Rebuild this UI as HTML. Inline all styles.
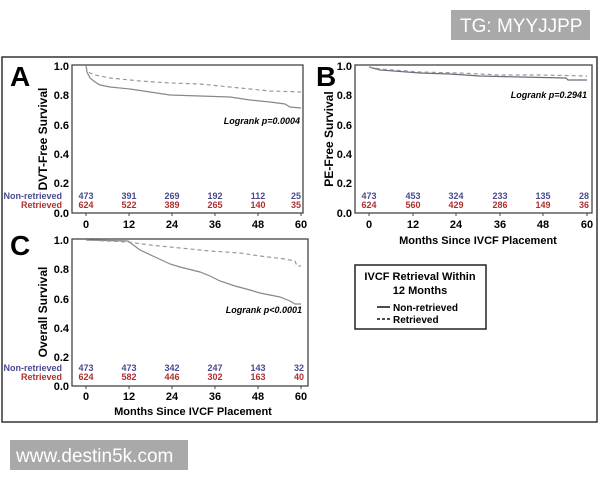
<!DOCTYPE html>
<html><head><style>body{margin:0;background:#fff;}svg{display:block}</style></head><body>
<svg width="600" height="480" xmlns="http://www.w3.org/2000/svg" font-family="Liberation Sans, Arial, sans-serif">
<rect x="451" y="10" width="139" height="30" fill="#a9a9a9"/>
<text x="460" y="32" font-size="19" fill="#fff">TG: MYYJJPP</text>
<rect x="10" y="440" width="178" height="30" fill="#a9a9a9"/>
<text x="16" y="462" font-size="19" fill="#fff">www.destin5k.com</text>
<rect x="2" y="57" width="595" height="365" fill="none" stroke="#333" stroke-width="1.5"/>

<!-- Panel A -->
<g font-weight="bold">
<text x="10" y="86" font-size="28">A</text>
<rect x="72" y="65" width="231" height="148" fill="none" stroke="#444" stroke-width="1.3"/>
<g stroke="#444" stroke-width="1"><line x1="86" y1="213" x2="86" y2="216"/><line x1="129" y1="213" x2="129" y2="216"/><line x1="172" y1="213" x2="172" y2="216"/><line x1="215" y1="213" x2="215" y2="216"/><line x1="258" y1="213" x2="258" y2="216"/><line x1="301" y1="213" x2="301" y2="216"/></g>
<g font-size="11" text-anchor="end">
<text x="69" y="70">1.0</text><text x="69" y="99">0.8</text><text x="69" y="129">0.6</text><text x="69" y="158">0.4</text><text x="69" y="187">0.2</text><text x="69" y="217">0.0</text></g>
<g font-size="11" text-anchor="middle">
<text x="86" y="228">0</text><text x="129" y="228">12</text><text x="172" y="228">24</text><text x="215" y="228">36</text><text x="258" y="228">48</text><text x="301" y="228">60</text></g>
<text transform="translate(47,139) rotate(-90)" font-size="12" text-anchor="middle">DVT-Free Survival</text>
<text x="300" y="124" font-size="9" font-style="italic" text-anchor="end">Logrank p=0.0004</text>
<g font-size="9" text-anchor="end"><text x="62" y="199" fill="#4a4a90">Non-retrieved</text><text x="62" y="208" fill="#b03030">Retrieved</text></g>
<g font-size="9" text-anchor="middle" fill="#4a4a90"><text x="86" y="199">473</text><text x="129" y="199">391</text><text x="172" y="199">269</text><text x="215" y="199">192</text><text x="258" y="199">112</text><text x="296" y="199">25</text></g>
<g font-size="9" text-anchor="middle" fill="#b03030"><text x="86" y="208">624</text><text x="129" y="208">522</text><text x="172" y="208">389</text><text x="215" y="208">265</text><text x="258" y="208">140</text><text x="296" y="208">35</text></g>
</g>
<path d="M86,66 L87,72 L90,78 L95,82 L100,85 L110,87 L130,89 L150,92 L170,95 L200,96 L230,97 L250,100 L270,102 L285,104 L290,107 L301,108" fill="none" stroke="#888" stroke-width="1.2"/>
<path d="M86,66 L87,70 L90,73 L95,75 L110,78 L140,81 L170,83 L200,84 L240,88 L270,91 L301,92" fill="none" stroke="#999" stroke-width="1.2" stroke-dasharray="4,3"/>

<!-- Panel B -->
<g font-weight="bold">
<text x="316" y="86" font-size="28">B</text>
<rect x="355" y="65" width="237" height="148" fill="none" stroke="#444" stroke-width="1.3"/>
<g stroke="#444" stroke-width="1"><line x1="369" y1="213" x2="369" y2="216"/><line x1="413" y1="213" x2="413" y2="216"/><line x1="456" y1="213" x2="456" y2="216"/><line x1="500" y1="213" x2="500" y2="216"/><line x1="543" y1="213" x2="543" y2="216"/><line x1="587" y1="213" x2="587" y2="216"/></g>
<g font-size="11" text-anchor="end">
<text x="352" y="70">1.0</text><text x="352" y="99">0.8</text><text x="352" y="129">0.6</text><text x="352" y="158">0.4</text><text x="352" y="187">0.2</text><text x="352" y="217">0.0</text></g>
<g font-size="11" text-anchor="middle">
<text x="369" y="228">0</text><text x="413" y="228">12</text><text x="456" y="228">24</text><text x="500" y="228">36</text><text x="543" y="228">48</text><text x="587" y="228">60</text></g>
<text x="478" y="244" font-size="11" text-anchor="middle">Months Since IVCF Placement</text>
<text transform="translate(333,139) rotate(-90)" font-size="12" text-anchor="middle">PE-Free Survival</text>
<text x="587" y="98" font-size="9" font-style="italic" text-anchor="end">Logrank p=0.2941</text>
<g font-size="9" text-anchor="middle" fill="#4a4a90"><text x="369" y="199">473</text><text x="413" y="199">453</text><text x="456" y="199">324</text><text x="500" y="199">233</text><text x="543" y="199">135</text><text x="584" y="199">28</text></g>
<g font-size="9" text-anchor="middle" fill="#b03030"><text x="369" y="208">624</text><text x="413" y="208">560</text><text x="456" y="208">429</text><text x="500" y="208">286</text><text x="543" y="208">149</text><text x="584" y="208">36</text></g>
</g>
<path d="M369,67 L380,70 L420,73 L450,74 L480,76 L520,77 L566,78 L568,80 L587,80" fill="none" stroke="#6a6a80" stroke-width="1.2"/>
<path d="M369,67 L380,69 L420,72 L460,73 L500,75 L540,75 L587,76" fill="none" stroke="#999" stroke-width="1.2" stroke-dasharray="4,3"/>

<!-- Panel C -->
<g font-weight="bold">
<text x="10" y="255" font-size="28">C</text>
<rect x="72" y="239" width="236" height="147" fill="none" stroke="#444" stroke-width="1.3"/>
<g stroke="#444" stroke-width="1"><line x1="86" y1="386" x2="86" y2="389"/><line x1="129" y1="386" x2="129" y2="389"/><line x1="172" y1="386" x2="172" y2="389"/><line x1="215" y1="386" x2="215" y2="389"/><line x1="258" y1="386" x2="258" y2="389"/><line x1="301" y1="386" x2="301" y2="389"/></g>
<g font-size="11" text-anchor="end">
<text x="69" y="244">1.0</text><text x="69" y="273">0.8</text><text x="69" y="303">0.6</text><text x="69" y="332">0.4</text><text x="69" y="361">0.2</text><text x="69" y="390">0.0</text></g>
<g font-size="11" text-anchor="middle">
<text x="86" y="400">0</text><text x="129" y="400">12</text><text x="172" y="400">24</text><text x="215" y="400">36</text><text x="258" y="400">48</text><text x="301" y="400">60</text></g>
<text x="193" y="415" font-size="11" text-anchor="middle">Months Since IVCF Placement</text>
<text transform="translate(47,312) rotate(-90)" font-size="12" text-anchor="middle">Overall Survival</text>
<text x="302" y="313" font-size="9" font-style="italic" text-anchor="end">Logrank p&lt;0.0001</text>
<g font-size="9" text-anchor="end"><text x="62" y="371" fill="#4a4a90">Non-retrieved</text><text x="62" y="380" fill="#b03030">Retrieved</text></g>
<g font-size="9" text-anchor="middle" fill="#4a4a90"><text x="86" y="371">473</text><text x="129" y="371">473</text><text x="172" y="371">342</text><text x="215" y="371">247</text><text x="258" y="371">143</text><text x="299" y="371">32</text></g>
<g font-size="9" text-anchor="middle" fill="#b03030"><text x="86" y="380">624</text><text x="129" y="380">582</text><text x="172" y="380">446</text><text x="215" y="380">302</text><text x="258" y="380">163</text><text x="299" y="380">40</text></g>
</g>
<path d="M86,240 L128,241 L140,250 L155,257 L170,264 L180,267 L200,272 L210,276 L220,281 L235,286 L250,290 L260,293 L280,297 L290,301 L295,304 L301,304" fill="none" stroke="#888" stroke-width="1.2"/>
<path d="M86,240 L128,242 L150,245 L180,248 L210,251 L240,253 L260,256 L285,259 L295,261 L297,266 L301,266" fill="none" stroke="#999" stroke-width="1.2" stroke-dasharray="4,3"/>

<!-- Legend -->
<rect x="355" y="265" width="131" height="64" fill="#fff" stroke="#222" stroke-width="1.5"/>
<g font-weight="bold" font-size="11">
<text x="420" y="280" text-anchor="middle">IVCF Retrieval Within</text>
<text x="420" y="294" text-anchor="middle">12 Months</text>
<text x="393" y="311" font-size="10">Non-retrieved</text>
<text x="393" y="323" font-size="10">Retrieved</text></g>
<line x1="377" y1="307" x2="390" y2="307" stroke="#111" stroke-width="1.5"/>
<line x1="377" y1="319" x2="390" y2="319" stroke="#111" stroke-width="1.5" stroke-dasharray="3,2"/>
</svg>
</body></html>
